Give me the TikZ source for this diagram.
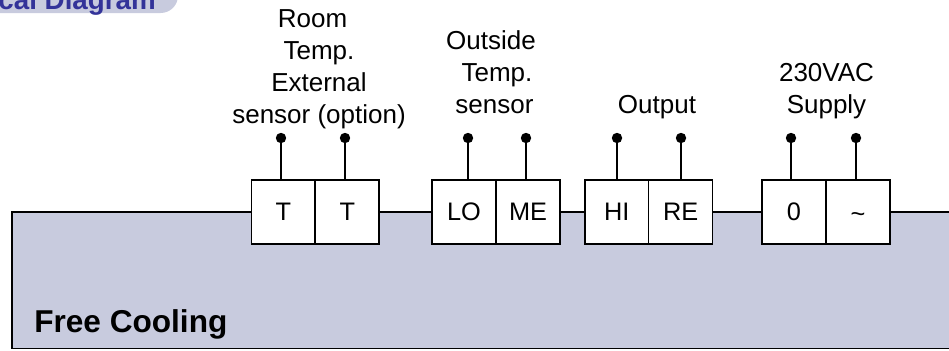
\documentclass[tikz,border=0pt]{standalone}
\usepackage{fontspec}
\setmainfont{Liberation Sans}
\usetikzlibrary{positioning}
\definecolor{panelblue}{HTML}{C8CBDE}
\definecolor{titleblue}{HTML}{333399}
\begin{document}
\begin{tikzpicture}[x=0.75pt,y=-0.75pt,
    term node/.style={rectangle,draw,fill=white,line width=1.2pt,inner sep=0pt,minimum width=47.9pt,minimum height=48.4pt,font=\fontsize{19}{23.6}\selectfont},
    pin node/.style={circle,fill=black,inner sep=0pt,minimum size=7.8pt},
    label node/.style={align=center,inner sep=0pt,font=\fontsize{19.5}{23.85}\selectfont}]
   \useasboundingbox (0,0) rectangle (949,350);
   \clip (0,0) rectangle (949,350);
   % title tab, cut off by the page
   \fill[panelblue,rounded corners=13pt] (-30,-30) rectangle (178,13);
   \node[anchor=base east,inner sep=0pt,text=titleblue,font=\fontsize{20.8}{24}\selectfont\bfseries] (title) at (156,9) {Electrical Diagram};
   % panel
   \coordinate (pa) at (12,348.5);
   \coordinate (pb) at (12,212);
   \coordinate (pc) at (960,212);
   \coordinate (pd) at (960,348.5);
   \fill[panelblue] (pa) rectangle (pc);
   \draw[line width=1.2pt] (pd) -- (pa) -- (pb) -- (pc);
   \node[anchor=base west,inner sep=0pt,font=\fontsize{23.7}{28}\selectfont\bfseries] (name) at (34,332) {Free Cooling};
   % terminals
   \node[term node] (t1) at (283.3,212) {T};
   \node[term node] (t2) at (347.3,212) {T};
   \node[term node] (lo) at (464,212) {LO};
   \node[term node] (me) at (528,212) {ME};
   \node[term node] (hi) at (616.8,212) {HI};
   \node[term node] (re) at (680.6,212) {RE};
   \node[term node] (zero) at (794,212) {0};
   \node[term node] (live) at (858,212) {\smash{\raisebox{-8pt}{\textasciitilde}}};
   % pins
   \node[pin node] (p1) at (281,138) {};
   \node[pin node] (p2) at (345,138) {};
   \node[pin node] (p3) at (468,138) {};
   \node[pin node] (p4) at (526,138) {};
   \node[pin node] (p5) at (617,138) {};
   \node[pin node] (p6) at (681,138) {};
   \node[pin node] (p7) at (791,138) {};
   \node[pin node] (p8) at (856,138) {};
   \draw[line width=1.2pt] (p1) -- (p1 |- t1.north);
   \draw[line width=1.2pt] (p2) -- (p2 |- t2.north);
   \draw[line width=1.2pt] (p3) -- (p3 |- lo.north);
   \draw[line width=1.2pt] (p4) -- (p4 |- me.north);
   \draw[line width=1.2pt] (p5) -- (p5 |- hi.north);
   \draw[line width=1.2pt] (p6) -- (p6 |- re.north);
   \draw[line width=1.2pt] (p7) -- (p7 |- zero.north);
   \draw[line width=1.2pt] (p8) -- (p8 |- live.north);
   % labels
   \node[label node,anchor=base] (room) at (319,123) {Room\hspace*{9.75pt}\\Temp.\\External\hspace*{6pt}\\sensor (option)};
   \node[label node,anchor=base] (outside) at (497,113) {Outside\hspace*{9pt}\\Temp.\\sensor\hspace*{3.75pt}};
   \node[label node,anchor=base] (output) at (657,113) {Output};
   \node[label node,anchor=base] (supply) at (826.5,113) {230VAC\\Supply};
\end{tikzpicture}
\end{document}
